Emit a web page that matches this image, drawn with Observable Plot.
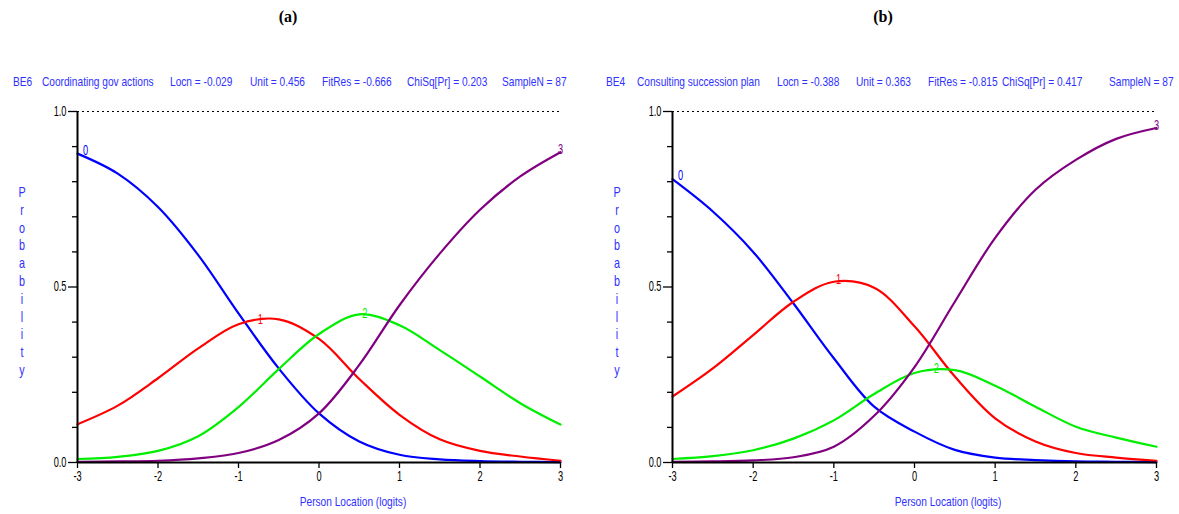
<!DOCTYPE html>
<html>
<head>
<meta charset="utf-8">
<script src="https://cdn.jsdelivr.net/npm/d3@7"></script>
<script src="https://cdn.jsdelivr.net/npm/@observablehq/plot@0.6"></script>
<style>
  body { margin: 0; background: #fff; }
  #root { position: relative; width: 1179px; height: 514px; overflow: hidden;
          font-family: "Liberation Sans", Arial, sans-serif; }
  .abs { position: absolute; white-space: nowrap; }
  .title { font-family: "Liberation Serif", "Times New Roman", serif; font-weight: bold; font-size: 16px;
           line-height: 20px; transform: translateX(-50%); }
  .blue { color: #3030ff; font-size: 13px; line-height: 14px; }
  .narrow { transform: scaleX(0.78); transform-origin: 0 50%; }
  .center { transform: translateX(-50%) scaleX(0.78); }
  .letter { color: #3030ff; font-size: 15px; line-height: 16px; transform: translateX(-50%) scaleX(0.72); }
</style>
</head>
<body>
<div id="root"></div>
<script>
// ---------------- data ----------------
const xLogits = [-3, -2.5, -2, -1.5, -1, -0.5, 0, 0.5, 1, 1.5, 2, 2.5, 3];
const categories = ["0", "1", "2", "3"];

// Panel (a): BE6 Coordinating gov actions
const probA0 = [0.880, 0.823, 0.728, 0.591, 0.425, 0.268, 0.140, 0.060, 0.022, 0.009, 0.004, 0.002, 0.001];
const probA1 = [0.109, 0.162, 0.240, 0.325, 0.394, 0.408, 0.352, 0.238, 0.136, 0.066, 0.033, 0.017, 0.005];
const probA2 = [0.010, 0.016, 0.033, 0.075, 0.158, 0.266, 0.366, 0.422, 0.391, 0.320, 0.245, 0.169, 0.108];
const probA3 = [0.002, 0.003, 0.005, 0.012, 0.027, 0.064, 0.140, 0.278, 0.448, 0.595, 0.720, 0.815, 0.884];
const labelAtA = [-3, -0.73, 0.57, 3];

// Panel (b): BE4 Consulting succession plan
const probB0 = [0.807, 0.715, 0.600, 0.453, 0.297, 0.159, 0.088, 0.036, 0.014, 0.007, 0.003, 0.002, 0.001];
const probB1 = [0.188, 0.268, 0.363, 0.458, 0.515, 0.498, 0.388, 0.245, 0.126, 0.060, 0.027, 0.014, 0.005];
const probB2 = [0.010, 0.018, 0.035, 0.068, 0.120, 0.195, 0.255, 0.263, 0.219, 0.159, 0.102, 0.071, 0.045];
const probB3 = [0.002, 0.003, 0.006, 0.015, 0.045, 0.133, 0.272, 0.458, 0.640, 0.777, 0.862, 0.922, 0.953];
const labelAtB = [-3, -0.94, 0.27, 3];

const panelTitles = ["(a)", "(b)"];
const headerA = ["BE6", "Coordinating gov actions", "Locn = -0.029", "Unit = 0.456", "FitRes = -0.666", "ChiSq[Pr] = 0.203", "SampleN = 87"];
const headerB = ["BE4", "Consulting succession plan", "Locn = -0.388", "Unit = 0.363", "FitRes = -0.815", "ChiSq[Pr] = 0.417", "SampleN = 87"];
const yLabel = "Probability";
const xLabel = "Person Location (logits)";
const xTicks = [-3, -2, -1, 0, 1, 2, 3];
const xTickLabels = ["-3", "-2", "-1", "0", "1", "2", "3"];
const yMajorTicks = [0, 0.5, 1];
const yMajorLabels = ["0.0", "0.5", "1.0"];
const yMinorTicks = [0.1, 0.2, 0.3, 0.4, 0.6, 0.7, 0.8, 0.9];

// ---------------- styling / layout ----------------
const curveColors = ["#0000ff", "#ff0000", "#00ee00", "#800080"];
const fontFam = '"Liberation Sans", Arial, sans-serif';
const root = document.getElementById("root");

function addDiv(cls, text, left, top) {
  const d = document.createElement("div");
  d.className = "abs " + cls;
  d.textContent = text;
  d.style.left = left + "px";
  d.style.top = top + "px";
  root.appendChild(d);
  return d;
}

function interp(arr, x) {
  for (let j = 0; j < xLogits.length - 1; j++) {
    if (x >= xLogits[j] && x <= xLogits[j + 1]) {
      const t = (x - xLogits[j]) / (xLogits[j + 1] - xLogits[j]);
      return arr[j] + t * (arr[j + 1] - arr[j]);
    }
  }
  return x < xLogits[0] ? arr[0] : arr[arr.length - 1];
}

function panel(series, labelAt, width, marginRight) {
  const rows = [];
  categories.forEach((c, i) => xLogits.forEach((x, j) => rows.push({cat: c, x, p: series[i][j]})));
  const labels = categories.map((c, i) => ({cat: c, x: labelAt[i], p: interp(series[i], labelAt[i])}));
  const svg = Plot.plot({
    width, height: 419,
    marginLeft: 77, marginRight, marginTop: 16, marginBottom: 52,
    x: {domain: [-3, 3]},
    y: {domain: [0, 1]},
    color: {domain: categories, range: curveColors},
    style: {fontFamily: fontFam, fontSize: "14px", background: "transparent", overflow: "visible"},
    marks: [
      Plot.ruleY([1], {stroke: "#000", strokeWidth: 1, strokeDasharray: "2,3"}),
      Plot.line(rows, {x: "x", y: "p", z: "cat", stroke: "cat", strokeWidth: 2.2, curve: "catmull-rom"}),
      Plot.ruleX([-3], {stroke: "#000", strokeWidth: 2}),
      Plot.ruleY([0], {stroke: "#000", strokeWidth: 2}),
      Plot.axisY(yMinorTicks, {tickSize: 5, tickFormat: () => "", label: null, stroke: "#000", strokeWidth: 1.3}),
      Plot.axisY(yMajorTicks, {tickSize: 9, tickPadding: 2, label: null, stroke: "#000", strokeWidth: 1.3,
        fill: "#000", fontSize: 14, tickFormat: d => yMajorLabels[yMajorTicks.indexOf(d)]}),
      Plot.axisX(xTicks, {tickSize: 6, tickPadding: 3, label: null, stroke: "#000", strokeWidth: 1.3,
        fill: "#000", fontSize: 14, tickFormat: d => xTickLabels[xTicks.indexOf(d)]}),
      Plot.text(labels.filter(d => d.cat !== "0"), {x: "x", y: "p", text: "cat", fill: "cat",
        lineAnchor: "bottom", fontSize: 14, dy: 2}),
      Plot.text(labels.filter(d => d.cat === "0"), {x: "x", y: "p", text: "cat", fill: "cat",
        lineAnchor: "bottom", fontSize: 14, dx: 8, dy: 1})
    ]
  });
  // condense the text glyphs horizontally, like the narrow font of the original
  svg.querySelectorAll("text").forEach(t => {
    const tr = t.getAttribute("transform") || "";
    t.setAttribute("transform", tr + " scale(0.66,1)");
  });
  return svg;
}

const headerXA = [13, 42, 170, 250, 322, 407, 502];
const headerXB = [606, 637, 777, 856, 928, 1002, 1109];

function buildPanel(titleX, svgLeft, frameLeft, title, header, headerX, series, labelAt, width, marginRight) {
  addDiv("title", title, titleX, 7);
  header.forEach((t, i) => addDiv("blue narrow", t, headerX[i], 75));
  [...yLabel].forEach((ch, i) => addDiv("letter", ch, frameLeft - 55, 184 + i * 17.8));
  addDiv("blue center", xLabel, frameLeft + 276, 495);
  const box = document.createElement("div");
  box.className = "abs";
  box.style.left = svgLeft + "px";
  box.style.top = "95px";
  box.appendChild(panel(series, labelAt, width, marginRight));
  root.appendChild(box);
}

buildPanel(288, 0, 77, panelTitles[0], headerA, headerXA, [probA0, probA1, probA2, probA3], labelAtA, 590, 30);
buildPanel(883, 595, 672, panelTitles[1], headerB, headerXB, [probB0, probB1, probB2, probB3], labelAtB, 584, 23);
</script>
</body>
</html>
